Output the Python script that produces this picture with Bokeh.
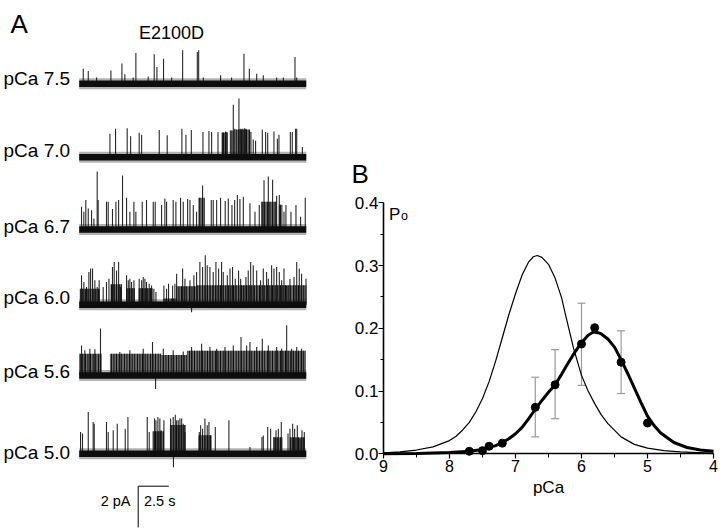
from bokeh.plotting import figure
from bokeh.models import (Range1d, FixedTicker, PrintfTickFormatter,
                          ColumnDataSource, Whisker, TeeHead)
from bokeh.embed import file_html
from bokeh.resources import INLINE
from bokeh.core.properties import value

FONT = "Liberation Sans"

# ---------------- Panel A data (single-channel records) ----------------
trace_labels = ["pCa 7.5", "pCa 7.0", "pCa 6.7", "pCa 6.0", "pCa 5.6", "pCa 5.0"]
record_length_s = 18.55
scale_bar_pA = 2.0
scale_bar_s = 2.5
panel_a_title = "E2100D"

# opening events: time (s) and current amplitude (pA)
t75 = [0.33, 0.74, 1.42, 2.59, 3.49, 3.73, 4.41, 4.63, 5.64, 6.13, 6.35, 6.89, 7.55, 8.45,
       9.65, 9.76, 10.14, 11.55, 12.45, 13.46, 13.90, 14.50, 15.04, 16.13, 16.68, 17.63, 17.77]
a75 = [0.73, 0.62, 0.30, 0.65, 0.98, 0.46, 0.30, 1.50, 0.36, 1.43, 0.81, 1.22, 0.30, 1.63,
       1.54, 1.63, 0.30, 0.41, 0.30, 1.46, 0.73, 0.49, 0.41, 0.30, 0.30, 1.30, 0.30]

t70 = [2.51, 2.97, 3.92, 4.20, 4.90, 5.10, 6.54, 7.19, 8.39, 8.72, 9.16, 10.11, 10.60, 10.82,
       11.34, 11.69, 11.80, 11.96, 12.07, 12.59, 12.70, 13.05, 13.16, 13.32, 13.49, 13.60,
       13.92, 14.03, 14.22, 14.41, 14.96, 15.23, 15.40, 15.91, 16.19, 16.32, 17.25, 17.41,
       17.68, 17.77, 18.23]
a70 = [1.14, 1.38, 1.41, 1.02, 1.19, 1.09, 1.32, 1.06, 1.38, 1.09, 1.32, 1.22, 1.27, 1.22,
       1.22, 1.19, 1.19, 1.25, 1.22, 2.55, 1.38, 2.85, 1.38, 1.38, 1.41, 1.38,
       1.30, 1.22, 0.86, 0.80, 1.35, 1.22, 1.19, 1.25, 0.89, 1.09, 1.22, 1.22,
       1.38, 1.38, 0.49]

t67 = [0.19, 0.38, 0.54, 0.74, 1.01, 1.20, 1.47, 1.55, 2.23, 2.37, 2.72, 3.00, 3.22, 3.54,
       3.87, 4.14, 4.47, 4.63, 5.15, 5.50, 6.05, 6.21, 6.73, 7.00, 7.14, 7.68, 7.90, 8.28,
       8.50, 8.86, 9.05, 9.32, 9.59, 10.08, 10.79, 10.95, 11.23, 11.55, 11.93, 12.18, 12.48,
       12.70, 12.92, 13.13, 13.41, 13.95, 14.36, 14.71, 15.10, 15.45, 15.80, 16.13, 16.35,
       16.73, 16.89, 17.30, 17.71, 18.09, 18.47]
a67 = [1.11, 0.86, 1.43, 1.02, 0.94, 0.54, 2.81, 1.43, 1.35, 1.35, 0.99, 1.35, 1.43, 2.62,
       1.54, 0.86, 1.35, 0.86, 1.35, 1.43, 1.35, 1.35, 1.19, 1.51, 1.35, 1.43, 1.35, 1.54,
       1.35, 1.48, 1.43, 1.19, 0.86, 2.13, 1.43, 1.43, 1.43, 1.54, 1.38, 1.51, 1.19,
       1.43, 1.67, 1.48, 1.59, 1.27, 0.86, 1.19, 2.39, 2.57, 2.41, 1.64, 1.67,
       0.86, 1.19, 0.86, 1.19, 0.62, 1.54]

t60 = [0.19, 0.38, 0.60, 0.79, 0.93, 1.09, 1.28, 1.47, 1.63, 1.96, 2.23, 2.43, 2.72, 2.86,
       3.05, 3.22, 3.38, 3.87, 4.01, 4.14, 4.28, 4.47, 4.90, 5.10, 5.23, 5.37, 5.50, 5.72,
       5.91, 6.10, 6.27, 6.92, 7.14, 7.30, 7.63, 7.82, 7.96, 8.45, 8.64, 9.05, 9.37, 9.59,
       9.86, 10.08, 10.30, 10.46, 10.68, 10.95, 11.17, 11.39, 11.63, 11.77, 12.10, 12.32,
       12.53, 12.75, 13.02, 13.19, 13.41, 13.62, 13.81, 14.01, 14.22, 14.50, 14.82, 15.04,
       15.31, 15.45, 15.72, 15.91, 16.13, 16.35, 16.54, 16.73, 16.95, 17.22, 17.55, 17.77,
       17.98, 18.17, 18.53, 9.18]
a60 = [1.43, 1.11, 0.86, 1.59, 1.76, 1.76, 1.19, 0.86, 1.19, 0.86, 1.11, 1.27, 1.84, 2.08,
       1.67, 2.08, 0.86, 1.43, 1.19, 1.27, 1.11, 1.19, 1.27, 1.19, 1.35, 1.27, 1.11, 1.02,
       0.94, 0.78, 0.62, 0.94, 0.78, 1.02, 0.94, 1.02, 1.51, 1.76, 1.27, 1.19, 1.43, 1.59,
       2.08, 1.84, 2.41, 1.92, 1.84, 1.59, 2.08, 1.76, 2.08, 1.59, 1.43, 1.76,
       1.84, 1.27, 1.67, 1.27, 0.94, 1.35, 1.67, 2.08, 1.92, 1.67, 1.19, 1.76,
       1.59, 1.27, 1.92, 1.76, 1.84, 1.59, 1.19, 1.76, 0.94, 1.27, 1.35, 2.08,
       1.76, 1.51, 1.27, -0.36]

t56 = [0.19, 0.46, 0.87, 1.28, 1.74, 3.32, 4.14, 5.23, 5.99, 6.87, 7.68, 8.50, 9.18, 10.00,
       10.68, 11.23, 11.91, 12.59, 13.22, 13.68, 13.95, 14.50, 14.96, 15.45, 16.13, 16.54,
       16.95, 17.36, 17.77, 18.17, 6.24]
a56 = [1.46, 1.22, 1.30, 1.27, 2.28, 1.14, 1.22, 1.30, 1.63, 1.30, 1.22, 1.17, 1.38, 1.54,
       1.38, 1.30, 1.38, 1.46, 1.87, 1.46, 1.63, 1.38, 1.79, 1.46, 1.38, 1.30,
       2.44, 1.30, 1.38, 1.30, -0.65]

t50 = [0.11, 0.27, 0.74, 1.14, 1.23, 2.23, 2.37, 2.78, 3.11, 3.76, 3.98, 5.56, 5.72, 6.16,
       6.27, 6.43, 6.59, 6.70, 6.92, 7.47, 7.68, 7.85, 7.96, 8.09, 8.23, 8.37, 8.50, 8.64,
       9.81, 9.92, 10.08, 10.27, 10.46, 10.60, 10.74, 11.12, 12.23, 13.95, 14.93, 15.04,
       15.40, 15.64, 15.91, 16.08, 16.27, 16.51, 17.06, 17.22, 17.44, 17.60, 17.82, 18.04,
       18.20, 18.39, 7.70]
a50 = [1.06, 0.98, 2.03, 1.54, 1.46, 1.54, 1.06, 1.14, 1.46, 1.22, 1.79, 1.79, 1.06, 1.71,
       1.63, 1.79, 1.71, 1.14, 1.63, 1.71, 1.79, 1.90, 1.63, 1.63, 1.71, 1.71, 1.46, 1.06,
       1.06, 1.38, 1.22, 1.71, 1.38, 1.54, 0.89, 1.30, 1.63, 0.33, 0.81, 0.89,
       1.30, 1.22, 0.81, 1.14, 1.22, 1.54, 0.98, 1.22, 1.46, 1.22, 1.38, 0.73,
       1.14, 1.06, -0.65]

# bursts of dense openings: start (s), end (s), level (pA)
b75_start, b75_end, b75_level = [], [], []
b70_start = [11.65, 12.30, 12.75]
b70_end = [12.15, 12.60, 13.95]
b70_level = [1.20, 1.30, 1.35]
b67_start = [9.73, 14.85, 16.30]
b67_end = [10.27, 16.13, 16.60]
b67_level = [1.54, 1.35, 1.20]
b60_start = [0.05, 2.55, 3.85, 4.85, 6.90, 7.95, 9.60]
b60_end = [1.70, 3.50, 4.55, 6.00, 7.90, 9.60, 18.55]
b60_level = [0.78, 1.00, 0.80, 0.80, 0.30, 0.90, 0.95]
b56_start = [0.00, 2.51, 6.70, 8.80]
b56_end = [1.83, 6.70, 8.80, 18.53]
b56_level = [1.06, 1.06, 1.00, 1.20]
b50_start = [6.00, 7.41, 9.73, 15.85, 17.20]
b50_end = [6.92, 8.72, 10.82, 16.60, 18.45]
b50_level = [1.10, 1.40, 0.90, 0.80, 0.80]

events = [(t75, a75), (t70, a70), (t67, a67), (t60, a60), (t56, a56), (t50, a50)]
bursts = [(b75_start, b75_end, b75_level), (b70_start, b70_end, b70_level),
          (b67_start, b67_end, b67_level), (b60_start, b60_end, b60_level),
          (b56_start, b56_end, b56_level), (b50_start, b50_end, b50_level)]

# ---------------- Panel B data ----------------
pca = [7.7, 7.5, 7.4, 7.2, 6.7, 6.4, 6.0, 5.8, 5.4, 5.0]
po = [0.004, 0.005, 0.012, 0.017, 0.074, 0.110, 0.175, 0.201, 0.146, 0.049]
err_pca = [6.7, 6.4, 6.0, 5.4]
err_lo = [0.027, 0.056, 0.109, 0.096]
err_hi = [0.122, 0.166, 0.240, 0.196]

thin_pca = [9.0, 8.75, 8.5, 8.25, 8.0, 7.9, 7.8, 7.7, 7.6, 7.5, 7.4, 7.3, 7.2, 7.1, 7.0,
            6.9, 6.8, 6.73, 6.67, 6.6, 6.5, 6.4, 6.3, 6.25, 6.12, 6.0, 5.9, 5.8, 5.7, 5.6,
            5.4, 5.2, 5.0, 4.75, 4.5, 4.25, 4.0]
thin_po = [0.0015, 0.003, 0.006, 0.011, 0.021, 0.028, 0.038, 0.050, 0.067, 0.088, 0.115,
           0.148, 0.185, 0.222, 0.255, 0.285, 0.306, 0.314, 0.316, 0.313, 0.302, 0.280,
           0.248, 0.225, 0.168, 0.125, 0.100, 0.080, 0.062, 0.048, 0.027, 0.015, 0.009,
           0.005, 0.003, 0.002, 0.001]

thick_pca = [9.0, 8.5, 8.0, 7.7, 7.5, 7.3, 7.2, 7.1, 7.0, 6.9, 6.8, 6.7, 6.6, 6.5, 6.4,
             6.3, 6.2, 6.1, 6.0, 5.9, 5.82, 5.75, 5.7, 5.6, 5.5, 5.4, 5.3, 5.2, 5.1, 5.0,
             4.9, 4.8, 4.6, 4.4, 4.2, 4.0]
thick_po = [0.0, 0.0005, 0.002, 0.004, 0.007, 0.013, 0.018, 0.024, 0.032, 0.042, 0.056,
            0.071, 0.085, 0.098, 0.110, 0.127, 0.145, 0.162, 0.177, 0.189, 0.194, 0.193,
            0.191, 0.183, 0.170, 0.150, 0.128, 0.105, 0.082, 0.060, 0.045, 0.033, 0.018,
            0.010, 0.006, 0.004]

x_ticks = [4, 5, 6, 7, 8, 9]
x_minor = [4.5, 5.5, 6.5, 7.5, 8.5]
y_ticks = [0.0, 0.1, 0.2, 0.3, 0.4]
y_minor = [0.05, 0.15, 0.25, 0.35]

# ======================= one canvas, two coordinate systems =======================
W, H = 720, 530

B_X9 = 383.0          # canvas x of pCa 9
B_Y0 = 453.3          # canvas y of Po 0
PX_PER_PCA = 66.0
PX_PER_PO = 627.5

A_T0 = 78.7           # canvas x of t = 0
PX_PER_S = 12.24
PX_PER_PA = 20.6


def bx(px):
    return 9.0 - (px - B_X9) / PX_PER_PCA


def by(py):
    return (B_Y0 - py) / PX_PER_PO


def ax(px):
    return (px - A_T0) / PX_PER_S


def ay(py):
    return -py / PX_PER_PA


p = figure(width=W, height=H, output_backend="svg", toolbar_location=None,
           x_range=Range1d(bx(0), bx(W)), y_range=Range1d(by(H), by(0)),
           min_border=0, min_border_left=0, min_border_right=0,
           min_border_top=0, min_border_bottom=0, x_axis_label="pCa")
p.extra_x_ranges = {"t": Range1d(ax(0), ax(W))}
p.extra_y_ranges = {"i": Range1d(ay(H), 0)}
p.grid.visible = False
p.outline_line_color = None
p.background_fill_color = "white"
p.border_fill_color = "white"

# ---------------- Panel A ----------------
baseline_px = [83.3, 156.7, 229.0, 304.3, 375.0, 453.3]
label_px = [78.3, 149.7, 225.5, 297.0, 371.3, 452.0]
AR = dict(x_range_name="t", y_range_name="i")

for k in range(6):
    off = ay(baseline_px[k])
    tt, aa = events[k]
    bs, be, bl = bursts[k]
    n = len(tt)
    if bs:
        p.quad(left=bs, right=be, bottom=[off] * len(bs), top=[off + v for v in bl],
               fill_color="#333333", fill_alpha=0.72, line_color=None,
               hatch_pattern="vertical_line", hatch_scale=2.6, hatch_weight=1.2,
               hatch_color="#000000", hatch_alpha=0.95, **AR)
    p.quad(left=[0], right=[record_length_s], bottom=[off - 0.27], top=[off + 0.27],
           fill_color="#222222", fill_alpha=0.35, line_color=None, **AR)
    p.quad(left=[0], right=[record_length_s], bottom=[off - 0.16], top=[off + 0.16],
           fill_color="#0d0d0d", fill_alpha=1.0, line_color=None, **AR)
    p.segment(x0=tt, y0=[off] * n, x1=tt, y1=[off + v for v in aa],
              line_color="#111111", line_width=1.1, line_alpha=0.9, **AR)

p.text(x=[ax(3.0)] * 6, y=[ay(v) for v in label_px], text=trace_labels,
       text_font=value(FONT), text_font_size="19px", text_color="black",
       text_align="left", text_baseline="middle", **AR)
p.text(x=[ax(171)], y=[ay(32)], text=[panel_a_title], text_font=value(FONT),
       text_font_size="18px", text_align="center", text_baseline="middle", **AR)
p.text(x=[ax(10)], y=[ay(23.3)], text=["A"], text_font=value(FONT),
       text_font_size="26px", text_align="left", text_baseline="alphabetic", **AR)

# scale bar
sb_t = ax(137.7)
sb_y = ay(485.7)
p.segment(x0=[sb_t, sb_t], y0=[sb_y, sb_y], x1=[sb_t, sb_t + scale_bar_s],
          y1=[sb_y - scale_bar_pA, sb_y], line_color="black", line_width=1, **AR)
p.text(x=[ax(130)], y=[ay(500)], text=["%g pA" % scale_bar_pA], text_font=value(FONT),
       text_font_size="14.5px", text_align="right", text_baseline="middle", **AR)
p.text(x=[ax(143.5)], y=[ay(500)], text=["%g s" % scale_bar_s], text_font=value(FONT),
       text_font_size="14.5px", text_align="left", text_baseline="middle", **AR)

# ---------------- Panel B ----------------
xa = p.xaxis[0]
ya = p.yaxis[0]
xa.fixed_location = 0.0
ya.fixed_location = 9.0
for axis in (xa, ya):
    axis.axis_line_width = 1.6
    axis.axis_line_color = "black"
    axis.major_tick_line_color = "black"
    axis.minor_tick_line_color = "black"
    axis.major_tick_line_width = 1.2
    axis.minor_tick_line_width = 1.0
    axis.major_tick_in = 0
    axis.minor_tick_in = 0
    axis.major_label_text_font = FONT
    axis.major_label_text_color = "black"
    axis.axis_label_text_font = FONT
    axis.axis_label_text_font_style = "normal"
    axis.axis_label_text_color = "black"

xa.bounds = (min(x_ticks), max(x_ticks))
xa.ticker = FixedTicker(ticks=x_ticks, minor_ticks=x_minor)
xa.formatter = PrintfTickFormatter(format="%d")
xa.major_tick_out = 5
xa.minor_tick_out = 4
xa.major_label_standoff = 1
xa.major_label_text_font_size = "16px"
xa.axis_label_text_font_size = "17px"
xa.axis_label_standoff = 3

ya.bounds = (min(y_ticks), max(y_ticks))
ya.ticker = FixedTicker(ticks=y_ticks, minor_ticks=y_minor)
ya.formatter = PrintfTickFormatter(format="%.1f")
ya.major_tick_out = 5
ya.minor_tick_out = 3
ya.major_label_standoff = 0
ya.major_label_text_font_size = "17px"

err_src = ColumnDataSource(dict(x=err_pca, lo=err_lo, hi=err_hi))
wh = Whisker(base="x", lower="lo", upper="hi", source=err_src, dimension="height",
             line_color="#9a9a9a", line_width=1.2,
             upper_head=TeeHead(size=8, line_color="#9a9a9a", line_width=1.2),
             lower_head=TeeHead(size=8, line_color="#9a9a9a", line_width=1.2))
p.add_layout(wh)

p.line(thin_pca, thin_po, line_color="black", line_width=1.2)
p.line(thick_pca, thick_po, line_color="black", line_width=3.0)
p.scatter(pca, po, size=8, color="black")

p.text(x=[bx(388.5)], y=[by(213.5)], text=["P"], text_font=value(FONT),
       text_font_size="17px", text_baseline="alphabetic", text_align="left")
p.text(x=[bx(400.5)], y=[by(215.5)], text=["o"], text_font=value(FONT),
       text_font_size="12.5px", text_baseline="alphabetic", text_align="left")
p.text(x=[bx(351)], y=[by(173)], text=["B"], text_font=value(FONT),
       text_font_size="26px", text_baseline="alphabetic", text_align="left")

open("out.html", "w").write(file_html(p, INLINE))
